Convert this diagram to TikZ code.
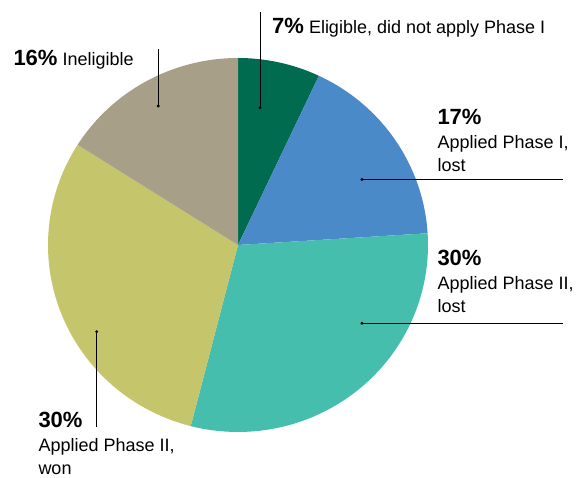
\documentclass[tikz,border=0pt]{standalone}
\usepackage{fontspec}
\setmainfont{Liberation Sans}

\definecolor{eligible}{HTML}{006B4F}
\definecolor{lostone}{HTML}{4A8AC8}
\definecolor{losttwo}{HTML}{45BEAD}
\definecolor{wontwo}{HTML}{C5C56C}
\definecolor{inelig}{HTML}{A79F87}

\newcommand{\pctnum}[1]{{\bfseries\fontsize{22}{24}\selectfont #1}}

\tikzset{
	leader/.style={draw=black, line width=0.8pt},
	lbl/.style={font=\fontsize{18}{23.5}\selectfont, align=left, anchor=base west, inner sep=0pt},
}

\begin{document}
\begin{tikzpicture}[x=1pt, y=1pt]
	\useasboundingbox (0,0) rectangle (581,478);
	\coordinate (c) at (238,233);

	\fill [eligible] (c) -- ++(90:190pt and 187pt) arc[start angle=90, end angle=64.8, x radius=190pt, y radius=187pt] -- cycle;
	\fill [lostone] (c) -- ++(64.8:190pt and 187pt) arc[start angle=64.8, end angle=3.6, x radius=190pt, y radius=187pt] -- cycle;
	\fill [losttwo] (c) -- ++(3.6:190pt and 187pt) arc[start angle=3.6, end angle=-104.4, x radius=190pt, y radius=187pt] -- cycle;
	\fill [wontwo] (c) -- ++(-104.4:190pt and 187pt) arc[start angle=-104.4, end angle=-212.4, x radius=190pt, y radius=187pt] -- cycle;
	\fill [inelig] (c) -- ++(147.6:190pt and 187pt) arc[start angle=147.6, end angle=90, x radius=190pt, y radius=187pt] -- cycle;

	% leader lines
	\coordinate (d7) at (260,370.3);   \coordinate (e7) at (260,466);
	\coordinate (d16) at (158.3,372);  \coordinate (e16) at (158.3,429);
	\coordinate (d17) at (362,298.5);  \coordinate (e17) at (562.5,298.5);
	\coordinate (d30l) at (362,154.7); \coordinate (e30l) at (562.5,154.7);
	\coordinate (d30w) at (96.7,146.3); \coordinate (e30w) at (96.7,50.7);
	\foreach \d/\e in {d7/e7, d16/e16, d17/e17, d30l/e30l, d30w/e30w} {
		\draw [leader] (\d) -- (\e);
		\fill (\d) circle[radius=1.6pt];
	}

	% multi-line labels sit on the baseline of their last line
	\node (t7) at (272,444) [lbl] {\pctnum{7\%} Eligible, did not apply Phase I};
	\node (t16) at (13.3,412.3) [lbl] {\pctnum{16\%} Ineligible};
	\node (t17) at (437.3,306.3) [lbl] {\pctnum{17\%}\\Applied Phase I,\\lost};
	\node (t30l) at (437.3,165.3) [lbl] {\pctnum{30\%}\\Applied Phase II,\\lost};
	\node (t30w) at (38.3,3) [lbl] {\pctnum{30\%}\\Applied Phase II,\\won};
\end{tikzpicture}
\end{document}
